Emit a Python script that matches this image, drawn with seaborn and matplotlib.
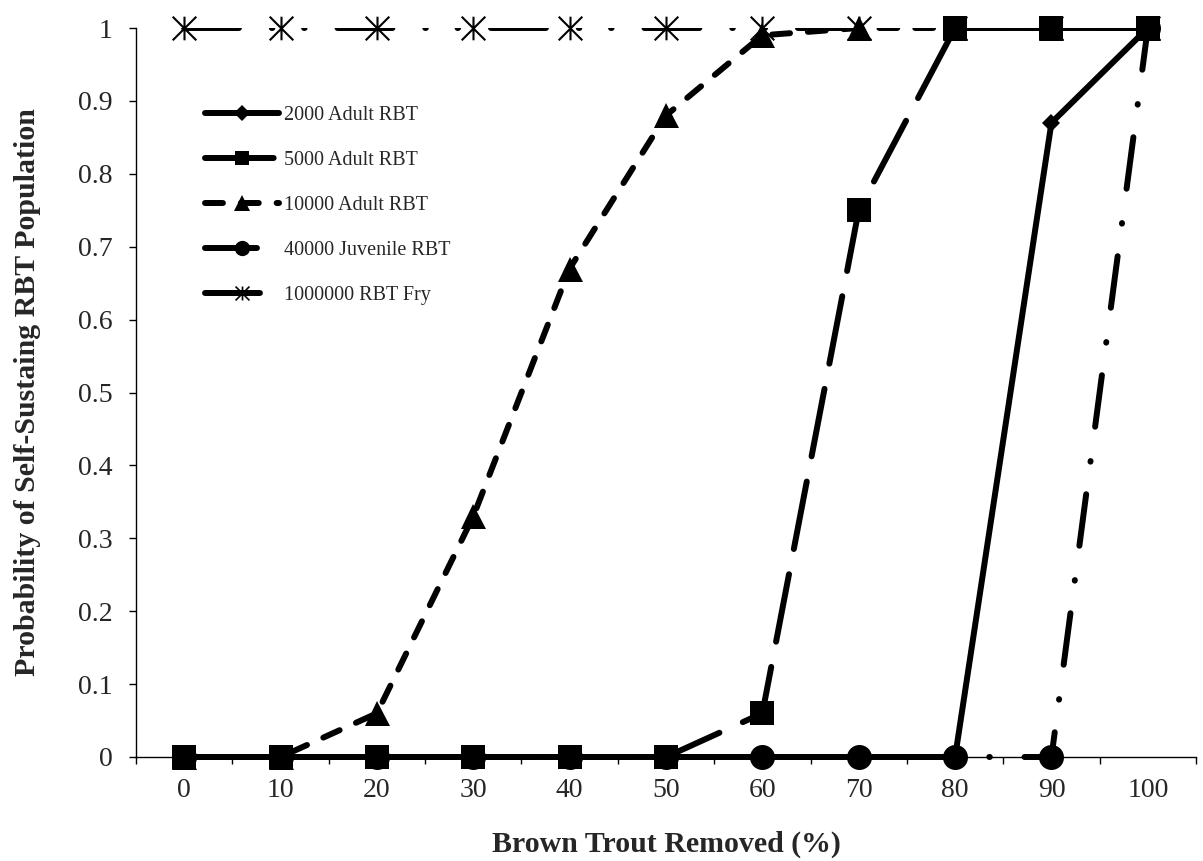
import matplotlib
matplotlib.use("Agg")
import matplotlib.pyplot as plt
from matplotlib.lines import Line2D
from matplotlib.patches import Rectangle
from matplotlib.path import Path
import seaborn as sns
import numpy as np

# ---- data ----
removed = [0, 10, 20, 30, 40, 50, 60, 70, 80, 90, 100]
adult_2000 = [0, 0, 0, 0, 0, 0, 0, 0, 0, 0.87, 1]
adult_5000 = [0, 0, 0, 0, 0, 0, 0.06, 0.75, 1, 1, 1]
adult_10000 = [0, 0, 0.06, 0.33, 0.67, 0.88, 0.99, 1, 1, 1, 1]
juvenile_40000 = [0, 0, 0, 0, 0, 0, 0, 0, 0, 0, 1]
fry_1000000 = [1, 1, 1, 1, 1, 1, 1, 1, 1, 1, 1]
labels = ["2000 Adult RBT", "5000 Adult RBT", "10000 Adult RBT",
          "40000 Juvenile RBT", "1000000 RBT Fry"]
yticks = [0, 0.1, 0.2, 0.3, 0.4, 0.5, 0.6, 0.7, 0.8, 0.9, 1]
ytick_labels = ["0", "0.1", "0.2", "0.3", "0.4", "0.5", "0.6", "0.7", "0.8", "0.9", "1"]

sns.set_style("ticks")
plt.rcParams["font.family"] = ["Liberation Serif", "DejaVu Serif"]

W, H = 1203, 861
fig = plt.figure(figsize=(W / 100, H / 100), dpi=100)
ax = fig.add_axes([136 / W, 1 - 757 / H, (1196 - 136) / W, (757 - 28) / H])

# Excel-like asterisk: vertical bar plus an X
ast = Path([(-1, -1), (1, 1), (-1, 1), (1, -1), (0, -1), (0, 1)],
           [Path.MOVETO, Path.LINETO, Path.MOVETO, Path.LINETO, Path.MOVETO, Path.LINETO])

LW = 4.3
series = [
    # values, label, linestyle, marker, markersize, legend markersize, zorder
    (fry_1000000, labels[4], (0, (9.2, 5.5, 0.1, 5.3, 0.1, 5.5)), ast, 17, 10, 2),
    (juvenile_40000, labels[3], (0, (8.7, 5.5, 0.1, 5.8)), "o", 18, 11, 3),
    (adult_2000, labels[0], "-", "D", 9, 8, 4),
    (adult_10000, labels[2], (0, (3.0, 3.0)), "^", 18, 11, 5),
    (adult_5000, labels[1], (0, (11.5, 4.3)), "s", 17, 10, 6),
]

clip_rect = Rectangle((0, -0.1), 1, 1.1, transform=ax.transAxes, fill=False)

handles = {}
for vals, lab, ls, mk, ms, lms, z in series:
    sns.lineplot(x=removed, y=vals, ax=ax, color="black", lw=LW, linestyle=ls,
                 dash_capstyle="round", solid_capstyle="round",
                 errorbar=None, legend=False, zorder=z)
    ln = ax.lines[-1]
    ln.set_clip_path(clip_rect)
    is_ast = mk is ast
    sns.lineplot(x=removed, y=vals, ax=ax, color="black", linestyle="none",
                 marker=mk, markersize=ms, markeredgewidth=1.5 if is_ast else 0,
                 markeredgecolor="black", markerfacecolor="black",
                 errorbar=None, legend=False, zorder=z + 0.5, clip_on=False)
    handles[lab] = Line2D([], [], color="black", lw=LW, linestyle=ls,
                          dash_capstyle="round", solid_capstyle="round",
                          marker=mk, markersize=lms,
                          markeredgewidth=1.2 if is_ast else 0)

ax.set_xlim(-5, 105)
ax.set_ylim(0, 1)
ax.set_xticks(removed)
ax.set_xticklabels([str(v) for v in removed])
ax.set_xticks(np.arange(-5, 106, 10), minor=True)
ax.tick_params(axis="x", which="major", length=0, pad=15, labelsize=20)
ax.tick_params(axis="x", which="minor", length=5, width=1, direction="out", color="black")
ax.set_yticks(yticks)
ax.set_yticklabels(ytick_labels)
ax.tick_params(axis="y", length=5, width=1, direction="out", pad=12, labelsize=20, color="black")

for s in ["top", "right"]:
    ax.spines[s].set_visible(False)
for s in ["left", "bottom"]:
    ax.spines[s].set_color("black")
    ax.spines[s].set_linewidth(1)

ax.set_xlabel("Brown Trout Removed (%)", fontsize=21.5, fontweight="bold")
ax.set_ylabel("Probability of Self-Sustaing RBT Population", fontsize=21.5, fontweight="bold")
ax.xaxis.set_label_coords(0.5, -(831 - 757) / 729)
ax.yaxis.set_label_coords((41 - 136) / 1060, 0.5)

leg = fig.legend([handles[l] for l in labels], labels, loc="upper left",
                 bbox_to_anchor=(205 / W, 1 - 106 / H), bbox_transform=fig.transFigure,
                 frameon=False, fontsize=14.5, borderpad=0, borderaxespad=0,
                 handlelength=3.65, handletextpad=0.25, labelspacing=1.28)

fig.savefig("out.png", dpi=100)
